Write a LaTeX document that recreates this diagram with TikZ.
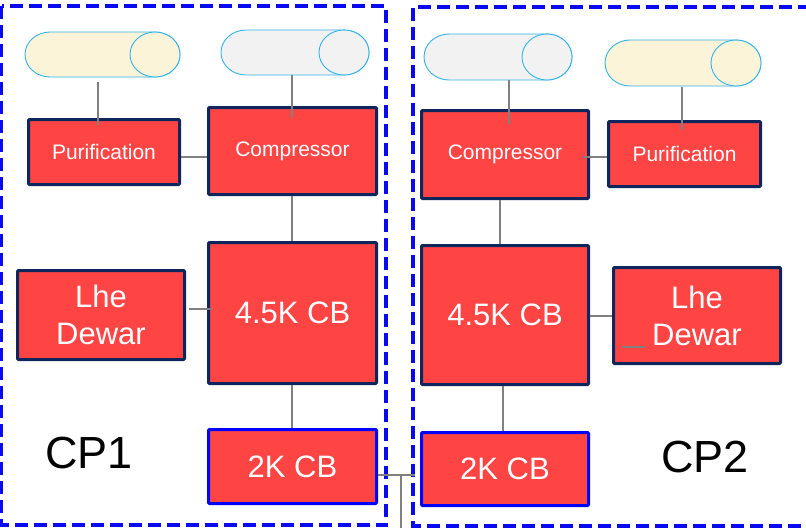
\documentclass[tikz,border=0pt]{standalone}
\usepackage{fontspec}
\setmainfont{Liberation Sans}
\definecolor{boxred}{RGB}{255,68,68}
\definecolor{navy}{RGB}{14,38,92}
\definecolor{frameblue}{RGB}{10,10,240}
\definecolor{cylblue}{RGB}{50,180,235}
\definecolor{cream}{RGB}{252,244,217}
\definecolor{lightgray}{RGB}{242,242,242}
\definecolor{linegray}{RGB}{128,128,128}
\newcommand\hcyl[6]{%
 \node[inner sep=0pt, outer sep=0pt, minimum width=#4pt, minimum height=#5pt] (#1) at (#2,#3) {};
 \draw[cylline, fill=#6] ([xshift=25pt]#1.north west) -- ([xshift=-25pt]#1.north east)
   arc[start angle=90, end angle=-90, x radius=25pt, y radius=#5pt/2] -- ([xshift=25pt]#1.south west)
   arc[start angle=270, end angle=90, x radius=25pt, y radius=#5pt/2] -- cycle;
 \draw[cylline, fill=#6] ([xshift=-25pt]#1.east) ellipse[x radius=25pt, y radius=#5pt/2];
}
\begin{document}
\begin{tikzpicture}[x=1pt, y=-1pt,
  cylline/.style={draw=cylblue, line width=0.9pt},
  box/.style={draw=navy, line width=3pt, fill=boxred, text=white, inner sep=0pt, rounded corners=1pt, align=center},
  bluebox/.style={box, draw=blue},
  small/.style={font=\fontsize{21}{24}\selectfont},
  big/.style={font=\fontsize{31}{37}\selectfont},
  conn/.style={draw=linegray, line width=1.8pt},
  frame/.style={draw=frameblue, line width=3.5pt, dash pattern=on 13pt off 6pt},
  cplabel/.style={font=\fontsize{45}{50}\selectfont, text=black, inner sep=0pt}
]
\useasboundingbox (0,0) rectangle (806,528);
\clip (0,0) rectangle (806,528);
\fill[white] (0,0) rectangle (806,528);

% frames
\draw[frame] (1.5,6) rectangle (386,525);
\draw[frame] (830,7) -- (413,7) -- (413,526) -- (830,526);

% cylinders
\hcyl{cylA}{102.5}{54.5}{155}{45}{cream}
\hcyl{cylB}{295}{52.5}{148}{45}{lightgray}
\hcyl{cylC}{498}{57}{148}{46}{lightgray}
\hcyl{cylD}{683}{63}{156}{46}{cream}

% CP1 boxes
\node[box, small, minimum width=151pt, minimum height=65pt] (pur1) at (104,152) {Purification};
\node[box, small, minimum width=168pt, minimum height=87pt] (comp1) at (292.5,151) {Compressor};
\node[box, big, minimum width=167pt, minimum height=89pt] (dew1) at (101,315) {Lhe\\Dewar};
\node[box, big, minimum width=168pt, minimum height=141pt] (cbA1) at (292.5,313) {4.5K CB};
\node[bluebox, big, minimum width=168pt, minimum height=74pt] (cbB1) at (292.5,466.5) {2K CB};

% CP2 boxes
\node[box, small, minimum width=167pt, minimum height=88pt] (comp2) at (505,154.5) {Compressor};
\node[box, small, minimum width=152pt, minimum height=65pt] (pur2) at (684.5,154) {Purification};
\node[box, big, minimum width=167pt, minimum height=139pt] (cbA2) at (505,315) {4.5K CB};
\node[box, big, minimum width=167pt, minimum height=96pt] (dew2) at (697,315.5) {Lhe\\Dewar};
\node[bluebox, big, minimum width=167pt, minimum height=73pt] (cbB2) at (505,469) {2K CB};

% labels
\node[cplabel] (cp1) at (89,453) {CP1};
\node[cplabel] (cp2) at (705,457) {CP2};

% connectors CP1
\draw[conn] ([yshift=-5pt]cylA.south -| 98,0) -- ([yshift=-7pt]pur1.north -| 98,0);
\draw[conn] (cylB.south -| 292,0) -- ([yshift=-12pt]comp1.north -| 292,0);
\draw[conn] (pur1.east |- 0,157) -- (comp1.west |- 0,157);
\draw[conn] (comp1.south -| 292,0) -- (cbA1.north -| 292,0);
\draw[conn] ([xshift=3pt]dew1.east |- 0,309) -- ([xshift=5pt]cbA1.west |- 0,309);
\draw[conn] (cbA1.south -| 292,0) -- (cbB1.north -| 292,0);

% connectors CP2
\draw[conn] (cylC.south -| 509,0) -- ([yshift=-15pt]comp2.north -| 509,0);
\draw[conn] ([yshift=-1pt]cylD.south -| 682,0) -- ([yshift=-10pt]pur2.north -| 682,0);
\draw[conn] ([xshift=-7pt]comp2.east |- 0,157) -- (pur2.west |- 0,157);
\draw[conn] (comp2.south -| 500,0) -- (cbA2.north -| 500,0);
\draw[conn] (cbA2.east |- 0,316) -- (dew2.west |- 0,316);
\draw[conn] (cbA2.south -| 503,0) -- (cbB2.north -| 503,0);
\coordinate (stubA) at (622,347);
\coordinate (stubB) at (645,347);
\draw[conn] (stubA) -- (stubB);

% link between 2K CBs
\coordinate (bus) at (401,475);
\coordinate (busend) at (401,528);
\coordinate (linkend) at (415,475);
\draw[conn] (cbB1.east |- bus) -- (linkend);
\draw[conn] (bus) -- (busend);
\end{tikzpicture}
\end{document}
